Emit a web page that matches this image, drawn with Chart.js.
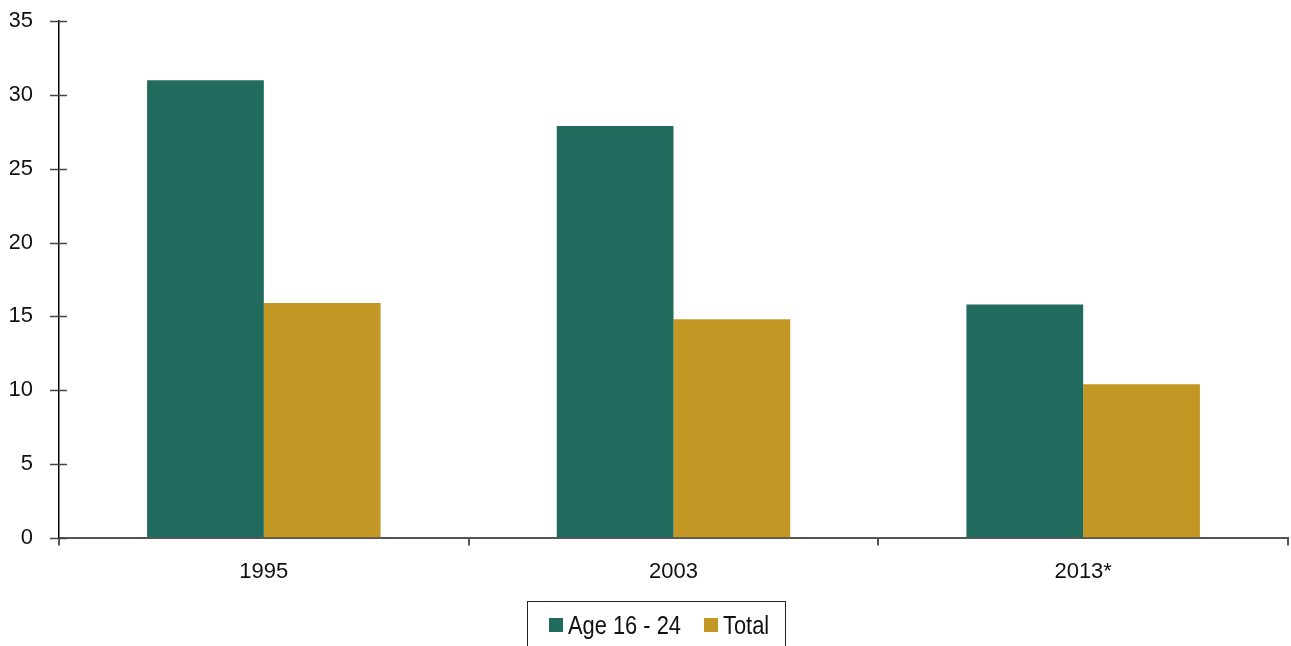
<!DOCTYPE html>
<html lang="en">
<head>
  <meta charset="UTF-8">
  <title>Age 16 - 24 vs Total</title>
  <script src="https://cdn.jsdelivr.net/npm/chart.js@4.4.0/dist/chart.umd.min.js"></script>
  <style>
    html, body { margin: 0; padding: 0; background: #fff; }
    body { font-family: 'Liberation Sans', Arial, sans-serif; color: #111; }
    .wrap { position: relative; width: 1291px; height: 646px; overflow: hidden; }
    #chart { position: absolute; left: 0; top: -18px; }
    #legend {
      position: absolute;
      left: 527px;
      top: 601px;
      width: 259px;
      height: 60px;
      border: 1px solid #222;
      box-sizing: border-box;
      font-size: 26px;
    }
    .item { position: absolute; top: 9px; height: 28px; display: flex; align-items: center; white-space: nowrap; }
    .item .sw { display: inline-block; width: 14px; height: 14px; margin-right: 5px; }
    .item .tx { display: inline-block; transform: scaleX(0.84); transform-origin: left center; }
  </style>
</head>
<body>
  <div class="wrap">
    <canvas id="chart" width="1291" height="664"></canvas>
    <div id="legend"></div>
  </div>

  <script>
    const categories = ['1995', '2003', '2013*'];
    const age1624 = [31.0, 27.9, 15.8];
    const total = [15.9, 14.8, 10.4];
    const yTicks = [0, 5, 10, 15, 20, 25, 30, 35];

    const teal = '#216b5e';
    const gold = '#c39723';
    const tickFont = { family: 'Liberation Sans', size: 22 };

    // ticks on the y axis cross the axis line, so draw them ourselves
    const crossTicks = {
      id: 'crossTicks',
      afterDraw(chart) {
        const ctx = chart.ctx;
        const y = chart.scales.y;
        const x0 = chart.chartArea.left;
        ctx.save();
        ctx.strokeStyle = '#444';
        ctx.lineWidth = 1.5;
        yTicks.forEach(v => {
          const py = Math.round(y.getPixelForValue(v)) + 0.5;
          ctx.beginPath();
          ctx.moveTo(x0 - 9, py);
          ctx.lineTo(x0 + 8, py);
          ctx.stroke();
        });
        ctx.restore();
      }
    };

    const chart = new Chart(document.getElementById('chart'), {
      type: 'bar',
      data: {
        labels: categories,
        datasets: [
          { label: 'Age 16 - 24', data: age1624, backgroundColor: teal, borderWidth: 0 },
          { label: 'Total', data: total, backgroundColor: gold, borderWidth: 0 }
        ]
      },
      options: {
        responsive: false,
        animation: false,
        layout: { padding: { left: 10, right: 3, top: 2, bottom: 48 } },
        datasets: { bar: { categoryPercentage: 0.57, barPercentage: 1.0 } },
        plugins: {
          legend: { display: false },
          tooltip: { enabled: false }
        },
        scales: {
          x: {
            grid: { drawOnChartArea: false, drawTicks: true, tickLength: 8, color: '#555', lineWidth: 2 },
            border: { color: '#555', width: 2 },
            ticks: { color: '#111', padding: 13, font: tickFont }
          },
          y: {
            min: 0,
            max: 35,
            afterBuildTicks: s => { s.ticks = yTicks.map(v => ({ value: v })); },
            afterFit: s => { s.width = 49; },
            grid: { display: false, drawTicks: false },
            border: { display: true, color: '#000', width: 1.5 },
            ticks: { color: '#111', padding: 26, font: tickFont }
          }
        }
      },
      plugins: [crossTicks]
    });

    // legend box under the axis, like the original
    const legend = document.getElementById('legend');
    const pos = [21, 176];
    chart.data.datasets.forEach((ds, i) => {
      const el = document.createElement('div');
      el.className = 'item';
      el.style.left = pos[i] + 'px';
      el.innerHTML = '<span class="sw" style="background:' + ds.backgroundColor + '"></span><span class="tx">' + ds.label + '</span>';
      legend.appendChild(el);
    });
  </script>
</body>
</html>
